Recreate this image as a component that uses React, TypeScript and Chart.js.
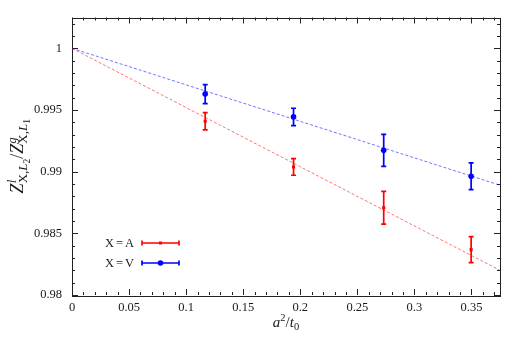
import React, { useEffect, useRef } from "react";
import { Chart, registerables } from "chart.js";

Chart.register(...registerables);

// ---- data ----
const flowTimeX = [0.1167, 0.1941, 0.2731, 0.3497];
const ratioA = [0.99409, 0.99038, 0.98707, 0.98368];
const errA = [0.0007, 0.00067, 0.00133, 0.00105];
const ratioV = [0.99629, 0.99444, 0.99173, 0.98963];
const errV = [0.00077, 0.0007, 0.0013, 0.00109];
const fitX = [0, 0.375];
const fitA = [1, 0.982];
const fitV = [1, 0.9889];
const xTicks = [0, 0.05, 0.1, 0.15, 0.2, 0.25, 0.3, 0.35];
const yTicks = [0.98, 0.985, 0.99, 0.995, 1];
const legendLabels = [
  ["X", "=", "A"],
  ["X", "=", "V"],
];

const X_MIN = 0;
const X_MAX = 0.375;
const Y_MIN = 0.98;
const Y_MAX = 1.0025;
const X_MINOR = 0.01;
const Y_MINOR = 0.001;

const RED = "rgb(255,0,0)";
const BLUE = "rgb(0,0,255)";
const FONT = '"Liberation Serif", "DejaVu Serif", serif';
const TEXT = "#1a1a1a";
const TICK_SIZE = 12.5;

type Piece = { t: string; size: number; italic?: boolean; dy?: number };
type Group = Piece[] | { sup: Piece[]; sub: Piece[] };

const fontOf = (p: Piece) => `${p.italic ? "italic " : ""}${p.size}px ${FONT}`;
const runWidth = (ctx: CanvasRenderingContext2D, run: Piece[]) =>
  run.reduce((w, p) => {
    ctx.font = fontOf(p);
    return w + ctx.measureText(p.t).width;
  }, 0);
const groupWidth = (ctx: CanvasRenderingContext2D, g: Group) =>
  Array.isArray(g) ? runWidth(ctx, g) : Math.max(runWidth(ctx, g.sup), runWidth(ctx, g.sub));
const drawRun = (ctx: CanvasRenderingContext2D, run: Piece[], x: number, y: number) => {
  for (const p of run) {
    ctx.font = fontOf(p);
    ctx.fillText(p.t, x, y + (p.dy || 0));
    x += ctx.measureText(p.t).width;
  }
  return x;
};
const drawRich = (
  ctx: CanvasRenderingContext2D,
  groups: Group[],
  cx: number,
  baseline: number,
  supDy: number,
  subDy: number
) => {
  const total = groups.reduce((w, g) => w + groupWidth(ctx, g), 0);
  let x = cx - total / 2;
  ctx.textAlign = "left";
  ctx.textBaseline = "alphabetic";
  for (const g of groups) {
    if (Array.isArray(g)) {
      x = drawRun(ctx, g, x, baseline);
    } else {
      drawRun(ctx, g.sup, x, baseline + supDy);
      drawRun(ctx, g.sub, x, baseline + subDy);
      x += groupWidth(ctx, g);
    }
  }
};

const yTitle: Group[] = [
  [{ t: "Z", size: 18, italic: true }],
  {
    sup: [{ t: "l", size: 13, italic: true }],
    sub: [
      { t: "X,", size: 13 },
      { t: "L", size: 13, italic: true },
      { t: "2", size: 9.5, dy: 2.5 },
    ],
  },
  [
    { t: "/", size: 18 },
    { t: "Z", size: 18, italic: true },
  ],
  {
    sup: [{ t: "g", size: 13, italic: true }],
    sub: [
      { t: "X,", size: 13 },
      { t: "L", size: 13, italic: true },
      { t: "1", size: 9.5, dy: 2.5 },
    ],
  },
];

const xTitle: Group[] = [
  [
    { t: "a", size: 15, italic: true },
    { t: "2", size: 10.5, dy: -6 },
    { t: "/", size: 15 },
    { t: "t", size: 15, italic: true },
    { t: "0", size: 10.5, dy: 3 },
  ],
];

const decorPlugin = {
  id: "decor",
  beforeDatasetsDraw(chart: any) {
    const { ctx, chartArea: a, scales } = chart;
    const xs = scales.x;
    const ys = scales.y;
    ctx.save();
    ctx.strokeStyle = "#222";
    ctx.lineWidth = 1;
    ctx.beginPath();
    // inward ticks, mirrored on all sides
    const nx = Math.floor((X_MAX - X_MIN) / X_MINOR + 1e-6);
    for (let i = 0; i <= nx; i++) {
      const v = X_MIN + i * X_MINOR;
      const major = xTicks.some((t) => Math.abs(t - v) < 1e-9);
      const len = major ? 6 : 3;
      const px = Math.round(xs.getPixelForValue(v)) + 0.5;
      ctx.moveTo(px, a.bottom);
      ctx.lineTo(px, a.bottom - len);
      ctx.moveTo(px, a.top);
      ctx.lineTo(px, a.top + len);
    }
    const ny = Math.floor((Y_MAX - Y_MIN) / Y_MINOR + 1e-6);
    for (let i = 0; i <= ny; i++) {
      const v = Y_MIN + i * Y_MINOR;
      const major = yTicks.some((t) => Math.abs(t - v) < 1e-9);
      const len = major ? 6 : 3;
      const py = Math.round(ys.getPixelForValue(v)) + 0.5;
      ctx.moveTo(a.left, py);
      ctx.lineTo(a.left + len, py);
      ctx.moveTo(a.right, py);
      ctx.lineTo(a.right - len, py);
    }
    ctx.stroke();
    ctx.strokeRect(
      Math.round(a.left) + 0.5,
      Math.round(a.top) + 0.5,
      Math.round(a.right - a.left),
      Math.round(a.bottom - a.top)
    );

    // axis titles
    ctx.fillStyle = TEXT;
    drawRich(ctx, xTitle, (a.left + a.right) / 2, 327, 0, 0);
    ctx.save();
    ctx.translate(23, (a.top + a.bottom) / 2);
    ctx.rotate(-Math.PI / 2);
    drawRich(ctx, yTitle, 0, 0, -7.5, 4);
    ctx.restore();
    ctx.restore();
  },
  afterDatasetsDraw(chart: any) {
    const { ctx, scales } = chart;
    const xs = scales.x;
    const ys = scales.y;
    const drawBar = (x: number, y: number, e: number, color: string, cap: number) => {
      const px = xs.getPixelForValue(x);
      const top = ys.getPixelForValue(y + e);
      const bot = ys.getPixelForValue(y - e);
      ctx.strokeStyle = color;
      ctx.lineWidth = 1.7;
      ctx.beginPath();
      ctx.moveTo(px, top);
      ctx.lineTo(px, bot);
      ctx.moveTo(px - cap, top);
      ctx.lineTo(px + cap, top);
      ctx.moveTo(px - cap, bot);
      ctx.lineTo(px + cap, bot);
      ctx.stroke();
    };
    ctx.save();
    flowTimeX.forEach((x, i) => drawBar(x, ratioA[i], errA[i], RED, 2.5));
    flowTimeX.forEach((x, i) => drawBar(x, ratioV[i], errV[i], BLUE, 2.5));

    // legend (inside plot, bottom left)
    const rows = [
      { y: 243, color: RED, style: "rect" },
      { y: 263, color: BLUE, style: "circle" },
    ];
    rows.forEach((r, i) => {
      const parts = legendLabels[i];
      ctx.font = `${TICK_SIZE}px ${FONT}`;
      ctx.fillStyle = TEXT;
      ctx.textBaseline = "middle";
      ctx.textAlign = "left";
      const gap = 2;
      const widths = parts.map((p) => ctx.measureText(p).width);
      const total = widths.reduce((s, w) => s + w, 0) + gap * (parts.length - 1);
      let x = 134 - total;
      parts.forEach((p, k) => {
        ctx.fillText(p, x, r.y + 0.5);
        x += widths[k] + gap;
      });
      const x0 = 142;
      const x1 = 179;
      ctx.strokeStyle = r.color;
      ctx.lineWidth = 1.7;
      ctx.beginPath();
      ctx.moveTo(x0, r.y);
      ctx.lineTo(x1, r.y);
      ctx.moveTo(x0, r.y - 2.5);
      ctx.lineTo(x0, r.y + 2.5);
      ctx.moveTo(x1, r.y - 2.5);
      ctx.lineTo(x1, r.y + 2.5);
      ctx.stroke();
      ctx.fillStyle = r.color;
      const cx = (x0 + x1) / 2;
      if (r.style === "rect") {
        ctx.fillRect(cx - 1.5, r.y - 1.5, 3, 3);
      } else {
        ctx.beginPath();
        ctx.arc(cx, r.y, 2.8, 0, Math.PI * 2);
        ctx.fill();
      }
    });
    ctx.restore();
  },
  afterDraw(chart: any) {
    // keep the margin right of the frame blank
    const { ctx, chartArea: a, width, height } = chart;
    ctx.save();
    ctx.fillStyle = "#fff";
    ctx.fillRect(Math.round(a.right) + 2, 0, width - Math.round(a.right) - 2, height);
    ctx.restore();
  },
};

export default function App() {
  const ref = useRef<HTMLCanvasElement | null>(null);
  useEffect(() => {
    if (!ref.current) return;
    const chart = new Chart(ref.current, {
      type: "scatter",
      data: {
        datasets: [
          {
            type: "line",
            label: "fit A",
            data: fitX.map((x, i) => ({ x, y: fitA[i] })),
            borderColor: "rgba(255,0,0,0.55)",
            borderWidth: 1,
            borderDash: [3, 2],
            pointRadius: 0,
            fill: false,
          },
          {
            type: "line",
            label: "fit V",
            data: fitX.map((x, i) => ({ x, y: fitV[i] })),
            borderColor: "rgba(0,0,255,0.55)",
            borderWidth: 1,
            borderDash: [3, 2],
            pointRadius: 0,
            fill: false,
          },
          {
            label: "X=A",
            data: flowTimeX.map((x, i) => ({ x, y: ratioA[i] })),
            backgroundColor: RED,
            borderColor: RED,
            pointStyle: "rect",
            pointRadius: 2.2,
            pointBorderWidth: 0,
          },
          {
            label: "X=V",
            data: flowTimeX.map((x, i) => ({ x, y: ratioV[i] })),
            backgroundColor: BLUE,
            borderColor: BLUE,
            pointStyle: "circle",
            pointRadius: 2.8,
            pointBorderWidth: 0,
          },
        ],
      },
      options: {
        animation: false,
        responsive: false,
        layout: { padding: { left: 0, top: 16, right: 24, bottom: 0 } },
        plugins: { legend: { display: false }, tooltip: { enabled: false } },
        scales: {
          x: {
            type: "linear",
            min: X_MIN,
            max: X_MAX,
            grid: { display: false, drawTicks: false },
            border: { display: false },
            afterBuildTicks: (s: any) => {
              s.ticks = xTicks.map((v) => ({ value: v }));
            },
            afterFit: (s: any) => {
              s.height = 42;
            },
            ticks: {
              padding: 5,
              color: TEXT,
              font: { family: FONT, size: TICK_SIZE },
              maxRotation: 0,
              autoSkip: false,
              callback: (v: any) => String(v),
            },
          },
          y: {
            type: "linear",
            min: Y_MIN,
            max: Y_MAX,
            grid: { display: false, drawTicks: false },
            border: { display: false },
            afterBuildTicks: (s: any) => {
              s.ticks = yTicks.map((v) => ({ value: v }));
            },
            afterFit: (s: any) => {
              s.width = 72;
            },
            ticks: {
              padding: 10,
              color: TEXT,
              font: { family: FONT, size: TICK_SIZE },
              autoSkip: false,
              callback: (v: any) => String(v),
            },
          },
        },
      },
      plugins: [decorPlugin],
    });
    return () => chart.destroy();
  }, []);
  return (
    <div style={{ position: "absolute", left: 0, top: 0, width: 524, height: 337, background: "#fff" }}>
      <canvas ref={ref} width={524} height={337} style={{ display: "block" }} />
    </div>
  );
}
